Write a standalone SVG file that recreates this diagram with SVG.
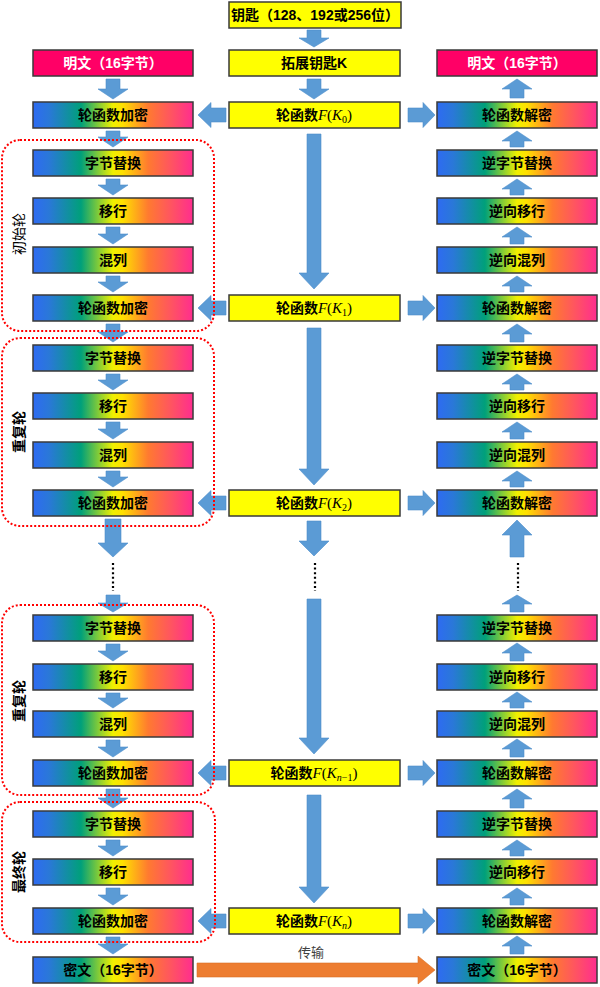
<svg xmlns="http://www.w3.org/2000/svg" width="600" height="987" viewBox="0 0 600 987">
<defs>
<linearGradient id="rb" x1="0" y1="0" x2="1" y2="0">
<stop offset="0" stop-color="#2E6BF2"/>
<stop offset="0.1" stop-color="#2A78D8"/>
<stop offset="0.3" stop-color="#00A07A"/>
<stop offset="0.5" stop-color="#F0F000"/>
<stop offset="0.56" stop-color="#FFE000"/>
<stop offset="0.72" stop-color="#FF7A30"/>
<stop offset="0.86" stop-color="#FF5560"/>
<stop offset="1" stop-color="#FF2D8F"/>
</linearGradient>
</defs>
<style>
.g{fill:url(#rb);stroke:#3a3a3a;stroke-width:1.5}
.y{fill:#FFFF00;stroke:#3a3a3a;stroke-width:1.5}
.r{fill:#FF0066;stroke:#3a3a3a;stroke-width:1.5}
text{font-family:"Liberation Sans","Noto Sans CJK SC",sans-serif;font-size:14px;font-weight:bold;text-anchor:middle;fill:#000}
.w{fill:#fff}
.m{font-family:"Liberation Serif",serif;font-weight:normal;font-style:italic;font-size:15px}
.mu{font-family:"Liberation Serif",serif;font-weight:normal;font-size:15px}
.a{fill:#5B9BD5;stroke:#4F8FCB;stroke-width:0.6}
.dots{stroke:#000;stroke-width:2.2;stroke-dasharray:2 2.6}
.grp{fill:none;stroke:#FF0000;stroke-width:2;stroke-dasharray:2 2}
.side{font-size:14px}
</style>

<g id="connectors">
<!-- left column down arrows -->
<polygon class="a" points="106,79 120,79 120,89 128,89 113,99 98,89 106,89"/>
<polygon class="a" points="106,131 120,131 120,137 128,137 113,147 98,137 106,137"/>
<polygon class="a" points="106,179 120,179 120,185 128,185 113,195 98,185 106,185"/>
<polygon class="a" points="106,227 120,227 120,234 128,234 113,244 98,234 106,234"/>
<polygon class="a" points="106,276 120,276 120,282 128,282 113,292 98,282 106,282"/>
<polygon class="a" points="106,324 120,324 120,332 128,332 113,342 98,332 106,332"/>
<polygon class="a" points="106,374 120,374 120,380 128,380 113,390 98,380 106,380"/>
<polygon class="a" points="106,422 120,422 120,429 128,429 113,439 98,429 106,429"/>
<polygon class="a" points="106,471 120,471 120,477 128,477 113,487 98,477 106,477"/>
<polygon class="a" points="105,519 121,519 121,543 128,543 113,557 98,543 105,543"/>
<line class="dots" x1="113" y1="563" x2="113" y2="591"/>
<polygon class="a" points="106,595 120,595 120,603 128,603 113,612 98,603 106,603"/>
<polygon class="a" points="106,644 120,644 120,651 128,651 113,661 98,651 106,651"/>
<polygon class="a" points="106,693 120,693 120,698 128,698 113,708 98,698 106,698"/>
<polygon class="a" points="106,740 120,740 120,747 128,747 113,757 98,747 106,747"/>
<polygon class="a" points="106,789 120,789 120,798 128,798 113,808 98,798 106,798"/>
<polygon class="a" points="106,840 120,840 120,846 128,846 113,856 98,846 106,846"/>
<polygon class="a" points="106,888 120,888 120,895 128,895 113,905 98,895 106,895"/>
<polygon class="a" points="106,937 120,937 120,944 128,944 113,954 98,944 106,944"/>

<!-- center column arrows -->
<polygon class="a" points="307,30 321,30 321,38 329,38 314,47 299,38 307,38"/>
<polygon class="a" points="307,79 321,79 321,89 329,89 314,99 299,89 307,89"/>
<polygon class="a" points="307,134 321,134 321,273 329,273 314,289 299,273 307,273"/>
<polygon class="a" points="307,328 321,328 321,469 329,469 314,485 299,469 307,469"/>
<polygon class="a" points="307,521 321,521 321,541 329,541 314,556 299,541 307,541"/>
<line class="dots" x1="315" y1="563" x2="315" y2="591"/>
<polygon class="a" points="307,599 321,599 321,738 329,738 314,754 299,738 307,738"/>
<polygon class="a" points="307,795 321,795 321,887 329,887 314,903 299,887 307,887"/>

<!-- right column up arrows -->
<polygon class="a" points="510,98 524,98 524,89 532,89 517,79 502,89 510,89"/>
<polygon class="a" points="510,147 524,147 524,141 532,141 517,131 502,141 510,141"/>
<polygon class="a" points="510,195 524,195 524,189 532,189 517,179 502,189 510,189"/>
<polygon class="a" points="510,244 524,244 524,237 532,237 517,227 502,237 510,237"/>
<polygon class="a" points="510,292 524,292 524,286 532,286 517,276 502,286 510,286"/>
<polygon class="a" points="510,342 524,342 524,334 532,334 517,324 502,334 510,334"/>
<polygon class="a" points="510,390 524,390 524,384 532,384 517,374 502,384 510,384"/>
<polygon class="a" points="510,439 524,439 524,432 532,432 517,422 502,432 510,432"/>
<polygon class="a" points="510,487 524,487 524,481 532,481 517,471 502,481 510,481"/>
<polygon class="a" points="510,557 524,557 524,535 532,535 517,520 502,535 510,535"/>
<line class="dots" x1="518" y1="563" x2="518" y2="591"/>
<polygon class="a" points="510,612 524,612 524,604 532,604 517,595 502,604 510,604"/>
<polygon class="a" points="510,661 524,661 524,653 532,653 517,643 502,653 510,653"/>
<polygon class="a" points="510,708 524,708 524,702 532,702 517,692 502,702 510,702"/>
<polygon class="a" points="510,757 524,757 524,749 532,749 517,739 502,749 510,749"/>
<polygon class="a" points="510,808 524,808 524,799 532,799 517,789 502,799 510,799"/>
<polygon class="a" points="510,856 524,856 524,850 532,850 517,840 502,850 510,850"/>
<polygon class="a" points="510,905 524,905 524,898 532,898 517,888 502,898 510,898"/>
<polygon class="a" points="510,954 524,954 524,946 532,946 517,936 502,946 510,946"/>

<!-- horizontal arrows left -->
<polygon class="a" points="226,108 211,108 211,102.5 198,115 211,127.5 211,122 226,122"/>
<polygon class="a" points="226,301 211,301 211,295.5 198,308 211,320.5 211,315 226,315"/>
<polygon class="a" points="226,496 211,496 211,490.5 198,503 211,515.5 211,510 226,510"/>
<polygon class="a" points="226,766 211,766 211,760.5 198,773 211,785.5 211,780 226,780"/>
<polygon class="a" points="226,914 211,914 211,908.5 198,921 211,933.5 211,928 226,928"/>
<!-- horizontal arrows right -->
<polygon class="a" points="408,108 423,108 423,102.5 435,115 423,127.5 423,122 408,122"/>
<polygon class="a" points="408,301 423,301 423,295.5 435,308 423,320.5 423,315 408,315"/>
<polygon class="a" points="408,496 423,496 423,490.5 435,503 423,515.5 423,510 408,510"/>
<polygon class="a" points="408,766 423,766 423,760.5 435,773 423,785.5 423,780 408,780"/>
<polygon class="a" points="408,914 423,914 423,908.5 435,921 423,933.5 423,928 408,928"/>

<!-- transmission arrow -->
<polygon points="197,963 418,963 418,956 435,970 418,984 418,977 197,977" fill="#ED7D31" stroke="#D86E25" stroke-width="0.6"/>
<text x="311" y="957" style="font-size:13px;font-weight:normal;fill:#404040">传输</text>
</g>

<!-- center column -->
<g id="key"><rect class="y" x="229" y="2" width="172" height="26"/><text x="315" y="20">钥匙（128、192或256位）</text></g>
<g id="expand"><rect class="y" x="229" y="50" width="171" height="26"/><text x="314" y="68">拓展钥匙K</text></g>
<g id="fk0"><rect class="y" x="229" y="102" width="171" height="26"/><text x="314" y="120">轮函数<tspan class="m">F</tspan><tspan class="mu">(</tspan><tspan class="m">K</tspan><tspan class="mu" font-size="10" style="font-size:10px" dy="3">0</tspan><tspan class="mu" dy="-3">)</tspan></text></g>
<g id="fk1"><rect class="y" x="229" y="295" width="171" height="26"/><text x="314" y="313">轮函数<tspan class="m">F</tspan><tspan class="mu">(</tspan><tspan class="m">K</tspan><tspan class="mu" style="font-size:10px" dy="3">1</tspan><tspan class="mu" dy="-3">)</tspan></text></g>
<g id="fk2"><rect class="y" x="229" y="490" width="171" height="26"/><text x="314" y="508">轮函数<tspan class="m">F</tspan><tspan class="mu">(</tspan><tspan class="m">K</tspan><tspan class="mu" style="font-size:10px" dy="3">2</tspan><tspan class="mu" dy="-3">)</tspan></text></g>
<g id="fkn1"><rect class="y" x="229" y="760" width="171" height="26"/><text x="314" y="778">轮函数<tspan class="m">F</tspan><tspan class="mu">(</tspan><tspan class="m">K</tspan><tspan class="m" style="font-size:10px" dy="3">n</tspan><tspan class="mu" style="font-size:10px">−1</tspan><tspan class="mu" dy="-3">)</tspan></text></g>
<g id="fkn"><rect class="y" x="229" y="908" width="171" height="26"/><text x="314" y="926">轮函数<tspan class="m">F</tspan><tspan class="mu">(</tspan><tspan class="m">K</tspan><tspan class="m" style="font-size:10px" dy="3">n</tspan><tspan class="mu" dy="-3">)</tspan></text></g>

<!-- left column -->
<g id="L0"><rect class="r" x="33" y="50" width="160" height="26"/><text class="w" x="113" y="68">明文（16字节）</text></g>
<g id="L1"><rect class="g" x="33" y="102" width="160" height="26"/><text x="113" y="120">轮函数加密</text></g>
<g id="L2"><rect class="g" x="33" y="150" width="160" height="26"/><text x="113" y="168">字节替换</text></g>
<g id="L3"><rect class="g" x="33" y="198" width="160" height="26"/><text x="113" y="216">移行</text></g>
<g id="L4"><rect class="g" x="33" y="247" width="160" height="26"/><text x="113" y="265">混列</text></g>
<g id="L5"><rect class="g" x="33" y="295" width="160" height="26"/><text x="113" y="313">轮函数加密</text></g>
<g id="L6"><rect class="g" x="33" y="345" width="160" height="26"/><text x="113" y="363">字节替换</text></g>
<g id="L7"><rect class="g" x="33" y="393" width="160" height="26"/><text x="113" y="411">移行</text></g>
<g id="L8"><rect class="g" x="33" y="442" width="160" height="26"/><text x="113" y="460">混列</text></g>
<g id="L9"><rect class="g" x="33" y="490" width="160" height="26"/><text x="113" y="508">轮函数加密</text></g>
<g id="L10"><rect class="g" x="33" y="615" width="160" height="26"/><text x="113" y="633">字节替换</text></g>
<g id="L11"><rect class="g" x="33" y="664" width="160" height="26"/><text x="113" y="682">移行</text></g>
<g id="L12"><rect class="g" x="33" y="711" width="160" height="26"/><text x="113" y="729">混列</text></g>
<g id="L13"><rect class="g" x="33" y="760" width="160" height="26"/><text x="113" y="778">轮函数加密</text></g>
<g id="L14"><rect class="g" x="33" y="811" width="160" height="26"/><text x="113" y="829">字节替换</text></g>
<g id="L15"><rect class="g" x="33" y="859" width="160" height="26"/><text x="113" y="877">移行</text></g>
<g id="L16"><rect class="g" x="33" y="908" width="160" height="26"/><text x="113" y="926">轮函数加密</text></g>
<g id="L17"><rect class="g" x="33" y="957" width="160" height="26"/><text x="113" y="975">密文（16字节）</text></g>

<!-- right column -->
<g id="R0"><rect class="r" x="437" y="50" width="160" height="26"/><text class="w" x="517" y="68">明文（16字节）</text></g>
<g id="R1"><rect class="g" x="437" y="102" width="160" height="26"/><text x="517" y="120">轮函数解密</text></g>
<g id="R2"><rect class="g" x="437" y="150" width="160" height="26"/><text x="517" y="168">逆字节替换</text></g>
<g id="R3"><rect class="g" x="437" y="198" width="160" height="26"/><text x="517" y="216">逆向移行</text></g>
<g id="R4"><rect class="g" x="437" y="247" width="160" height="26"/><text x="517" y="265">逆向混列</text></g>
<g id="R5"><rect class="g" x="437" y="295" width="160" height="26"/><text x="517" y="313">轮函数解密</text></g>
<g id="R6"><rect class="g" x="437" y="345" width="160" height="26"/><text x="517" y="363">逆字节替换</text></g>
<g id="R7"><rect class="g" x="437" y="393" width="160" height="26"/><text x="517" y="411">逆向移行</text></g>
<g id="R8"><rect class="g" x="437" y="442" width="160" height="26"/><text x="517" y="460">逆向混列</text></g>
<g id="R9"><rect class="g" x="437" y="490" width="160" height="26"/><text x="517" y="508">轮函数解密</text></g>
<g id="R10"><rect class="g" x="437" y="615" width="160" height="26"/><text x="517" y="633">逆字节替换</text></g>
<g id="R11"><rect class="g" x="437" y="664" width="160" height="26"/><text x="517" y="682">逆向移行</text></g>
<g id="R12"><rect class="g" x="437" y="711" width="160" height="26"/><text x="517" y="729">逆向混列</text></g>
<g id="R13"><rect class="g" x="437" y="760" width="160" height="26"/><text x="517" y="778">轮函数解密</text></g>
<g id="R14"><rect class="g" x="437" y="811" width="160" height="26"/><text x="517" y="829">逆字节替换</text></g>
<g id="R15"><rect class="g" x="437" y="859" width="160" height="26"/><text x="517" y="877">逆向移行</text></g>
<g id="R16"><rect class="g" x="437" y="908" width="160" height="26"/><text x="517" y="926">轮函数解密</text></g>
<g id="R17"><rect class="g" x="437" y="957" width="160" height="26"/><text x="517" y="975">密文（16字节）</text></g>

<!-- round groups -->
<g id="round-initial"><rect class="grp" x="2" y="140" width="212" height="191" rx="18"/><text class="side" style="font-weight:normal" transform="translate(24,234) rotate(-90)">初始轮</text></g>
<g id="round-repeat1"><rect class="grp" x="2" y="338" width="212" height="188" rx="18"/><text class="side" transform="translate(24,432) rotate(-90)">重复轮</text></g>
<g id="round-repeat2"><rect class="grp" x="2" y="605" width="212" height="190" rx="18"/><text class="side" transform="translate(24,701) rotate(-90)">重复轮</text></g>
<g id="round-final"><rect class="grp" x="2" y="802" width="213" height="140" rx="18"/><text class="side" transform="translate(24,872) rotate(-90)">最终轮</text></g>
</svg>
